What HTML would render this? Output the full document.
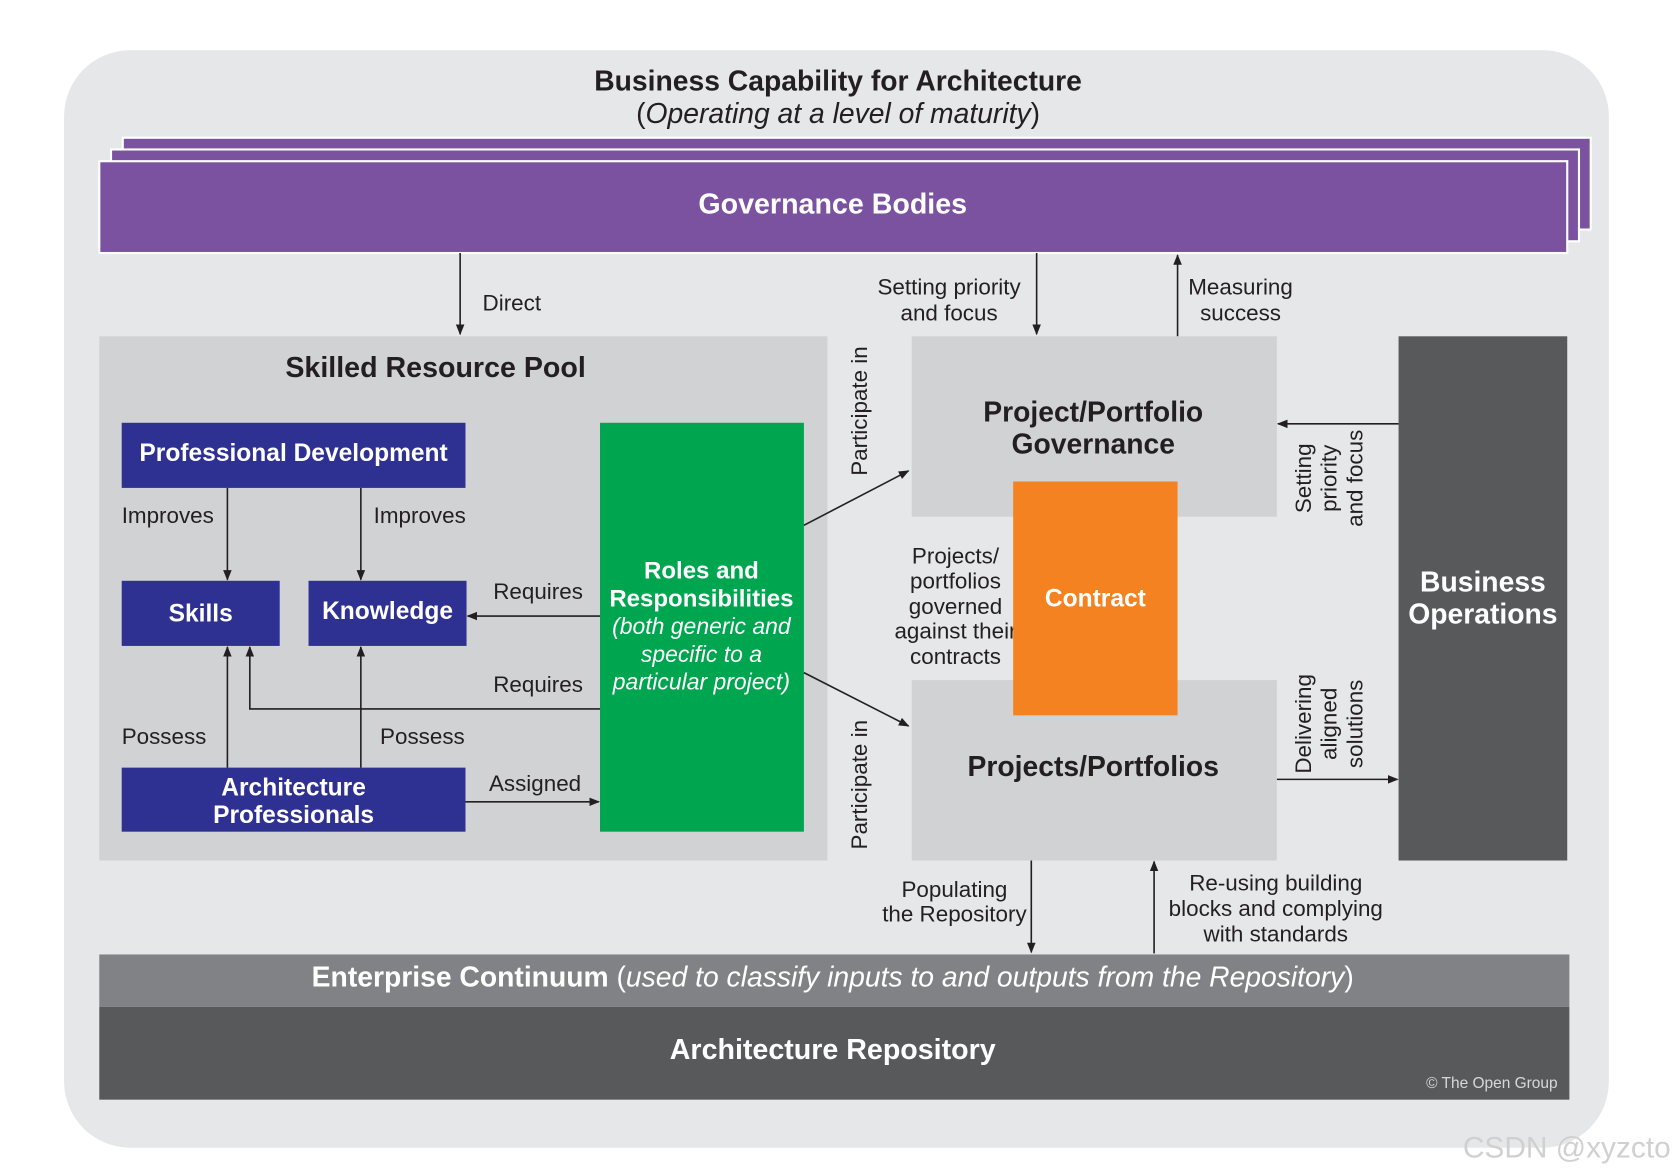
<!DOCTYPE html>
<html><head><meta charset="utf-8"><style>
html,body{margin:0;padding:0;background:#fff;}
svg{display:block;font-family:"Liberation Sans",Arial,sans-serif;}
</style></head><body>
<svg width="1674" height="1176" viewBox="0 0 1568 1101.5" preserveAspectRatio="none" xmlns="http://www.w3.org/2000/svg">
<defs>
<marker id="a" markerWidth="10" markerHeight="10" refX="9" refY="5" orient="auto" markerUnits="userSpaceOnUse">
<path d="M0,1 L10,5 L0,9 z" fill="#231f20"/></marker>
</defs>
<rect x="60" y="47" width="1447" height="1028" rx="62" fill="#e6e7e8"/>
<text x="785" y="85" text-anchor="middle" font-size="26.5" font-weight="bold" fill="#231f20">Business Capability for Architecture</text>
<text x="785" y="115" text-anchor="middle" font-size="26.5" fill="#231f20">(<tspan font-style="italic">Operating at a level of maturity</tspan>)</text>
<rect x="115" y="129" width="1375" height="86" fill="#7b52a0" stroke="#fff" stroke-width="2"/>
<rect x="104" y="140" width="1375" height="86" fill="#7b52a0" stroke="#fff" stroke-width="2"/>
<rect x="93" y="151" width="1375" height="86" fill="#7b52a0" stroke="#fff" stroke-width="2"/>
<text x="780" y="200" text-anchor="middle" font-size="26.8" font-weight="bold" fill="#fff">Governance Bodies</text>
<g stroke="#231f20" stroke-width="1.5" fill="none">
<line x1="431" y1="237" x2="431" y2="313" marker-end="url(#a)"/>
<line x1="971" y1="237" x2="971" y2="313" marker-end="url(#a)"/>
<line x1="1103" y1="315" x2="1103" y2="239" marker-end="url(#a)"/>
</g>
<g font-size="21" fill="#231f20">
<text x="452" y="291">Direct</text>
<text x="889" y="276" text-anchor="middle">Setting priority</text>
<text x="889" y="300" text-anchor="middle">and focus</text>
<text x="1162" y="276" text-anchor="middle">Measuring</text>
<text x="1162" y="300" text-anchor="middle">success</text>
</g>
<rect x="93" y="315" width="682" height="491" fill="#d1d2d4"/>
<text x="408" y="353" text-anchor="middle" font-size="26.8" font-weight="bold" fill="#231f20">Skilled Resource Pool</text>
<rect x="114" y="396" width="322" height="61" fill="#2e3192"/>
<rect x="114" y="544" width="148" height="61" fill="#2e3192"/>
<rect x="289" y="544" width="148" height="61" fill="#2e3192"/>
<rect x="114" y="719" width="322" height="60" fill="#2e3192"/>
<rect x="562" y="396" width="191" height="383" fill="#00a64f"/>
<g font-weight="bold" fill="#fff" text-anchor="middle">
<text x="275" y="432" font-size="23">Professional Development</text>
<text x="188" y="582" font-size="23">Skills</text>
<text x="363" y="580" font-size="23">Knowledge</text>
<text x="275" y="745" font-size="23">Architecture</text>
<text x="275" y="771" font-size="23">Professionals</text>
<text x="657" y="542" font-size="22.5">Roles and</text>
<text x="657" y="568" font-size="22.5">Responsibilities</text>
</g>
<g fill="#fff" font-style="italic" font-size="21.5" text-anchor="middle">
<text x="657" y="594">(both generic and</text>
<text x="657" y="620">specific to a</text>
<text x="657" y="646">particular project)</text>
</g>
<g stroke="#231f20" stroke-width="1.5" fill="none">
<line x1="213" y1="457" x2="213" y2="543" marker-end="url(#a)"/>
<line x1="338" y1="457" x2="338" y2="543" marker-end="url(#a)"/>
<line x1="562" y1="577" x2="438" y2="577" marker-end="url(#a)"/>
<polyline points="562,664 234,664 234,606" marker-end="url(#a)"/>
<line x1="213" y1="719" x2="213" y2="606" marker-end="url(#a)"/>
<line x1="338" y1="719" x2="338" y2="606" marker-end="url(#a)"/>
<line x1="436" y1="751" x2="561" y2="751" marker-end="url(#a)"/>
<line x1="753" y1="492" x2="851" y2="441" marker-end="url(#a)"/>
<line x1="753" y1="630" x2="851" y2="680" marker-end="url(#a)"/>
<line x1="1310" y1="397" x2="1197" y2="397" marker-end="url(#a)"/>
<line x1="1196" y1="730" x2="1309" y2="730" marker-end="url(#a)"/>
<line x1="966" y1="806" x2="966" y2="892" marker-end="url(#a)"/>
<line x1="1081" y1="893" x2="1081" y2="807" marker-end="url(#a)"/>
</g>
<g font-size="21" fill="#231f20">
<text x="114" y="490">Improves</text>
<text x="350" y="490">Improves</text>
<text x="462" y="561">Requires</text>
<text x="462" y="648">Requires</text>
<text x="114" y="697">Possess</text>
<text x="356" y="697">Possess</text>
<text x="458" y="741">Assigned</text>
<text transform="translate(812,385) rotate(-90)" text-anchor="middle">Participate in</text>
<text transform="translate(812,735) rotate(-90)" text-anchor="middle">Participate in</text>
</g>
<rect x="854" y="315" width="342" height="169" fill="#d1d2d4"/>
<rect x="854" y="637" width="342" height="169" fill="#d1d2d4"/>
<g font-size="21" fill="#231f20" text-anchor="middle">
<text x="895" y="528">Projects/</text>
<text x="895" y="551">portfolios</text>
<text x="895" y="575">governed</text>
<text x="895" y="598">against their</text>
<text x="895" y="622">contracts</text>
</g>
<rect x="949" y="451" width="154" height="219" fill="#f58220"/>
<text x="1026" y="568" text-anchor="middle" font-size="23" font-weight="bold" fill="#fff">Contract</text>
<g font-size="26.5" font-weight="bold" fill="#231f20" text-anchor="middle">
<text x="1024" y="395">Project/Portfolio</text>
<text x="1024" y="425">Governance</text>
<text x="1024" y="727">Projects/Portfolios</text>
</g>
<rect x="1310" y="315" width="158" height="491" fill="#58595b"/>
<text x="1389" y="554" text-anchor="middle" font-size="26.5" font-weight="bold" fill="#fff">Business</text>
<text x="1389" y="584" text-anchor="middle" font-size="26.5" font-weight="bold" fill="#fff">Operations</text>
<g font-size="21" fill="#231f20" text-anchor="middle">
<text transform="translate(1228,448) rotate(-90)">Setting</text>
<text transform="translate(1252,448) rotate(-90)">priority</text>
<text transform="translate(1276,448) rotate(-90)">and focus</text>
<text transform="translate(1228,678) rotate(-90)">Delivering</text>
<text transform="translate(1252,678) rotate(-90)">aligned</text>
<text transform="translate(1276,678) rotate(-90)">solutions</text>
<text x="894" y="840">Populating</text>
<text x="894" y="863">the Repository</text>
<text x="1195" y="834">Re-using building</text>
<text x="1195" y="858">blocks and complying</text>
<text x="1195" y="882">with standards</text>
</g>
<rect x="93" y="894" width="1377" height="49" fill="#808285"/>
<text x="780" y="924" text-anchor="middle" font-size="26.5" fill="#fff"><tspan font-weight="bold">Enterprise Continuum</tspan> (<tspan font-style="italic">used to classify inputs to and outputs from the Repository</tspan>)</text>
<rect x="93" y="943" width="1377" height="87" fill="#58595b"/>
<text x="780" y="992" text-anchor="middle" font-size="26.8" font-weight="bold" fill="#fff">Architecture Repository</text>
<text x="1459" y="1019" text-anchor="end" font-size="14.5" fill="#d8d8d8">© The Open Group</text>
<text x="1565" y="1084" text-anchor="end" font-size="28" fill="#d0d0d0">CSDN @xyzcto</text>
</svg>
</body></html>
